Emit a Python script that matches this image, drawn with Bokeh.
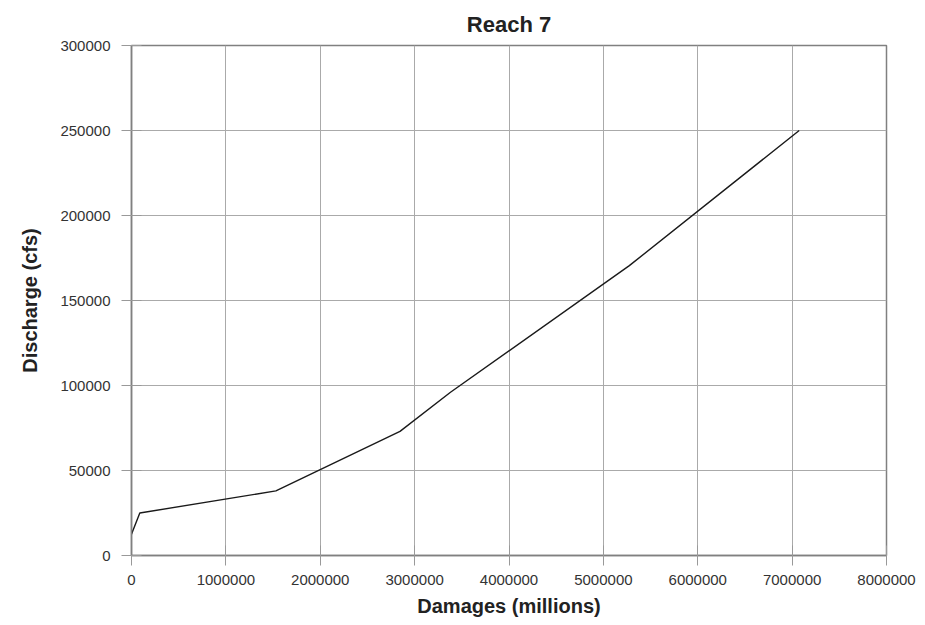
from bokeh.plotting import figure
from bokeh.models import Range1d, FixedTicker, BasicTickFormatter
from bokeh.embed import file_html
from bokeh.resources import INLINE

# Data
damages = [0, 88000, 1530000, 2845000, 3380000, 5275000, 7075000]
discharge = [12500, 25000, 38000, 73000, 96000, 170500, 250000]

x_ticks = [0, 1000000, 2000000, 3000000, 4000000, 5000000, 6000000, 7000000, 8000000]
y_ticks = [0, 50000, 100000, 150000, 200000, 250000, 300000]

p = figure(width=925, height=625, output_backend="svg", toolbar_location=None,
           x_range=Range1d(0, 8000000), y_range=Range1d(0, 300000),
           title="Reach 7",
           min_border_left=131, min_border_right=39, min_border_top=45, min_border_bottom=70)

p.line(damages, discharge, line_color="#1a1a1a", line_width=1.4)

p.title.align = "center"
p.title.text_font = "Liberation Sans"
p.title.text_font_size = "22px"
p.title.text_font_style = "bold"
p.title.text_color = "#222222"
p.title.standoff = 17

for ax in (p.xaxis[0], p.yaxis[0]):
    ax.axis_line_color = "#808080"
    ax.axis_line_width = 1.5
    ax.major_tick_line_color = "#999999"
    ax.major_tick_out = 10
    ax.major_tick_in = 10
    ax.minor_tick_line_color = None
    ax.major_label_text_font = "Liberation Sans"
    ax.major_label_text_font_size = "15px"
    ax.major_label_text_color = "#333333"
    ax.axis_label_text_font = "Liberation Sans"
    ax.axis_label_text_font_size = "20px"
    ax.axis_label_text_font_style = "bold"
    ax.axis_label_text_color = "#222222"
    ax.formatter = BasicTickFormatter(use_scientific=False)

p.xaxis[0].ticker = FixedTicker(ticks=x_ticks)
p.yaxis[0].ticker = FixedTicker(ticks=y_ticks)
p.xaxis[0].axis_label = "Damages (millions)"
p.yaxis[0].axis_label = "Discharge (cfs)"
p.xaxis[0].major_label_standoff = 9
p.yaxis[0].major_label_standoff = 11
p.xaxis[0].axis_label_standoff = 7
p.yaxis[0].axis_label_standoff = 16

p.xgrid.grid_line_color = "#aaaaaa"
p.ygrid.grid_line_color = "#aaaaaa"
p.xgrid.grid_line_width = 1
p.ygrid.grid_line_width = 1
p.outline_line_color = "#808080"
p.outline_line_width = 1.5
p.background_fill_color = "white"
p.border_fill_color = "white"

open("out.html", "w").write(file_html(p, INLINE))
